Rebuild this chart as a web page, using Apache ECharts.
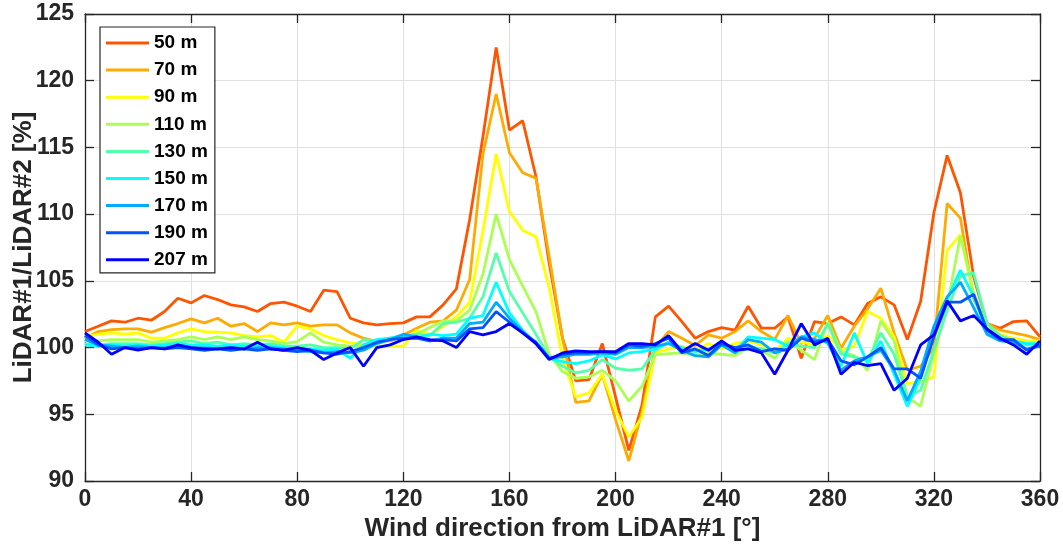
<!DOCTYPE html>
<html>
<head>
<meta charset="utf-8">
<script src="https://cdn.jsdelivr.net/npm/echarts@6/dist/echarts.min.js"></script>
<style>
  html, body { margin: 0; padding: 0; background: #fff; }
  #chart { width: 1063px; height: 552px; }
</style>
</head>
<body>
<div id="chart"></div>
<script>
// wind direction bins [deg]
var directions = [0, 5, 10, 15, 20, 25, 30, 35, 40, 45, 50, 55, 60, 65, 70, 75, 80, 85, 90, 95,
  100, 105, 110, 115, 120, 125, 130, 135, 140, 145, 150, 155, 160, 165, 170, 175, 180, 185, 190, 195,
  200, 205, 210, 215, 220, 225, 230, 235, 240, 245, 250, 255, 260, 265, 270, 275, 280, 285, 290, 295,
  300, 305, 310, 315, 320, 325, 330, 335, 340, 345, 350, 355, 360];

var heights = ["50 m", "70 m", "90 m", "110 m", "130 m", "150 m", "170 m", "190 m", "207 m"];
var colors = ["#ff5500", "#ffaa00", "#ffff00", "#aaff55", "#55ffaa", "#00ffff", "#00aaff", "#0055ff", "#0000ff"];

// LiDAR#1 / LiDAR#2 ratio [%] per height
var ratio50 = [101.2, 101.6, 102.0, 101.9, 102.2, 102.05, 102.7, 103.7, 103.35, 103.9, 103.6, 103.2, 103.05, 102.7, 103.3, 103.4, 103.1, 102.7, 104.3, 104.2,
  102.2, 101.85, 101.7, 101.8, 101.85, 102.3, 102.3, 103.2, 104.4, 109.6, 115.8, 122.5, 116.3, 117.0, 112.8, 106.3, 100.7, 97.5, 97.6, 100.3,
  96.3, 92.3, 95.7, 102.3, 103.1, 101.95, 100.7, 101.2, 101.5, 101.3, 103.1, 101.45, 101.45, 102.3, 99.2, 101.95, 101.8, 102.3, 101.7, 103.3,
  103.8, 103.2, 100.6, 103.45, 110.1, 114.4, 111.6, 105.3, 101.8, 101.45, 101.95, 102.0, 100.8];
var ratio70 = [100.7, 101.2, 101.35, 101.4, 101.4, 101.15, 101.5, 101.8, 102.15, 101.85, 102.2, 101.6, 101.8, 101.2, 101.85, 101.7, 101.85, 101.6, 101.7, 101.7,
  101.1, 100.7, 100.45, 100.5, 100.95, 101.45, 101.9, 102.0, 102.8, 105.1, 114.5, 119.0, 114.6, 113.1, 112.7, 106.8, 100.7, 95.9, 96.0, 98.0,
  94.6, 91.5, 95.2, 100.0, 101.2, 100.7, 100.15, 100.95, 100.7, 101.2, 102.0, 101.2, 100.6, 102.4, 100.3, 100.7, 102.4, 99.95, 101.6, 102.9,
  104.45, 101.1, 98.3, 98.6, 100.0, 110.8, 109.7, 103.6, 101.8, 101.3, 101.1, 100.9, 100.6];
var ratio90 = [100.8, 101.0, 101.1, 101.0, 101.1, 100.7, 100.7, 101.1, 101.4, 101.2, 101.15, 101.1, 100.9, 100.8, 100.9, 100.4, 101.6, 101.4, 100.9, 100.6,
  100.35, 100.2, 100.1, 100.1, 100.1, 101.3, 100.95, 101.6, 102.3, 103.4, 108.7, 114.5, 110.2, 108.8, 108.3, 104.5, 99.2, 96.3, 96.6, 98.0,
  95.3, 93.3, 94.8, 99.6, 99.9, 100.1, 99.7, 100.3, 99.9, 100.3, 100.5, 100.2, 99.7, 100.7, 100.4, 100.2, 100.9, 99.8, 100.1, 102.7,
  102.2, 100.8, 97.3, 97.45, 97.8, 107.3, 108.45, 103.8, 101.5, 101.0, 100.7, 100.5, 100.5];
var ratio110 = [100.5, 100.5, 100.6, 100.6, 100.6, 100.4, 100.5, 100.6, 100.8, 100.6, 100.8, 100.6, 100.8, 100.6, 100.5, 100.3, 100.45, 101.1, 100.4, 100.2,
  100.1, 100.1, 100.4, 100.6, 100.8, 101.0, 101.5, 102.0, 102.0, 102.8, 105.5, 110.0, 106.6, 104.6, 102.7, 99.5, 98.2, 97.7, 97.8, 98.3,
  97.5, 96.0, 97.1, 99.45, 99.55, 99.6, 99.4, 99.6, 99.5, 99.4, 100.0, 99.8, 99.2, 100.5, 99.8, 99.1, 101.9, 99.7, 99.4, 98.3,
  102.0, 100.5, 96.3, 95.6, 99.6, 103.1, 108.4, 104.1, 101.5, 100.7, 100.5, 100.3, 100.3];
var ratio130 = [100.3, 100.2, 100.3, 100.3, 100.3, 100.2, 100.3, 100.4, 100.5, 100.3, 100.4, 100.2, 100.3, 100.2, 100.3, 100.1, 100.1, 100.2, 100.0, 100.0,
  99.9, 100.6, 100.5, 100.7, 100.9, 101.0, 100.9, 101.8, 101.9, 102.2, 103.8, 107.1, 104.2, 102.6, 101.0, 99.3, 98.6, 98.1, 98.3, 99.1,
  98.45, 98.3, 98.4, 99.8, 100.4, 99.9, 99.8, 99.8, 100.2, 99.6, 100.1, 99.9, 99.6, 100.3, 100.1, 100.0, 101.8, 99.5, 99.3, 99.0,
  101.1, 99.5, 96.3, 96.8, 99.8, 102.8, 105.4, 105.6, 101.8, 100.9, 100.5, 100.2, 100.2];
var ratio150 = [100.2, 100.1, 100.2, 100.1, 100.2, 100.1, 100.2, 100.3, 100.2, 100.2, 100.1, 100.2, 100.1, 100.2, 100.1, 100.0, 99.9, 99.9, 99.8, 99.9,
  99.2, 100.2, 100.6, 100.7, 100.8, 100.7, 101.0, 100.9, 101.0, 102.2, 102.4, 104.9, 102.6, 101.3, 100.3, 99.2, 98.95, 98.8, 99.0, 99.45,
  99.15, 99.6, 99.7, 99.9, 100.4, 100.0, 99.7, 99.9, 100.2, 99.7, 100.8, 100.7, 100.6, 100.1, 100.8, 101.1, 100.3, 98.6, 101.1, 98.8,
  100.5, 98.0, 95.6, 97.7, 101.3, 103.6, 105.8, 103.8, 101.3, 100.6, 100.5, 100.3, 100.3];
var ratio170 = [100.6, 100.2, 100.1, 100.0, 100.1, 100.0, 100.0, 100.1, 100.0, 100.0, 99.9, 100.0, 99.9, 100.0, 100.0, 99.9, 99.8, 99.7, 99.6, 99.7,
  99.6, 99.8, 100.3, 100.6, 101.0, 100.8, 100.5, 100.7, 100.7, 101.8, 101.9, 103.4, 102.2, 101.2, 100.3, 99.2, 99.3, 99.5, 99.5, 99.6,
  99.5, 100.0, 100.0, 100.1, 100.3, 99.8, 99.4, 99.3, 100.2, 99.6, 100.6, 100.4, 99.6, 99.9, 100.8, 100.6, 100.4, 98.3, 99.0, 99.3,
  99.8, 98.3, 96.0, 98.2, 101.6, 103.8, 104.9, 103.0, 101.0, 100.5, 100.4, 99.9, 100.1];
var ratio190 = [100.9, 100.2, 99.9, 100.0, 99.9, 100.0, 99.9, 100.0, 99.9, 99.8, 99.9, 99.8, 99.9, 99.8, 99.9, 99.8, 99.7, 99.8, 99.6, 99.5,
  99.7, 100.0, 100.4, 100.6, 100.7, 100.7, 100.5, 100.6, 100.5, 101.4, 101.5, 102.7, 101.9, 101.1, 100.4, 99.2, 99.5, 99.6, 99.6, 99.7,
  99.6, 100.2, 100.1, 100.3, 100.7, 99.6, 99.9, 99.4, 100.3, 100.0, 100.2, 99.7, 99.9, 99.8, 100.7, 100.4, 100.6, 99.0, 98.7, 99.3,
  100.0, 98.4, 98.4, 97.7, 100.8, 103.4, 103.4, 104.0, 101.3, 100.6, 100.6, 99.8, 100.2];
var ratio207 = [101.1, 100.4, 99.5, 100.0, 99.8, 100.0, 99.9, 100.2, 100.0, 99.9, 99.9, 100.0, 99.9, 100.4, 99.9, 99.8, 100.0, 99.8, 99.1, 99.6,
  100.0, 98.6, 100.0, 100.2, 100.6, 100.8, 100.6, 100.5, 100.0, 101.2, 100.95, 101.2, 101.8, 101.1, 100.3, 99.1, 99.6, 99.75, 99.7, 99.7,
  99.7, 100.3, 100.3, 100.2, 100.9, 99.7, 100.3, 99.8, 100.5, 99.8, 99.9, 99.6, 98.0, 99.8, 101.8, 100.2, 100.7, 98.0, 98.9, 98.65,
  98.8, 96.8, 97.7, 100.2, 100.95, 103.5, 102.0, 102.4, 101.4, 100.7, 100.2, 99.5, 100.5];

var ratios = [ratio50, ratio70, ratio90, ratio110, ratio130, ratio150, ratio170, ratio190, ratio207];

var xTicks = { min: 0, max: 360, interval: 40 };
var yTicks = { min: 90, max: 125, interval: 5 };

var axisColor = "#262626";
var fontFamily = "Liberation Sans, Arial, sans-serif";

function pairs(values) {
  return directions.map(function (d, i) { return [d, values[i]]; });
}

var chart = echarts.init(document.getElementById("chart"), null, { renderer: "canvas" });

var series = heights.map(function (name, i) {
  return {
    name: name,
    type: "line",
    symbol: "none",
    data: pairs(ratios[i]),
    lineStyle: { width: 2.8, color: colors[i] },
    itemStyle: { color: colors[i] }
  };
});

// shared axis look (MATLAB-style box with inward ticks)
function boxAxis(extra) {
  var base = {
    type: "value",
    axisLine: { show: true, onZero: false, lineStyle: { color: axisColor, width: 1.3 } },
    axisTick: { show: true, inside: true, length: 9, lineStyle: { color: axisColor, width: 1.3 } },
    splitLine: { show: false },
    axisLabel: { show: false }
  };
  return Object.assign(base, extra);
}

var option = {
  backgroundColor: "#ffffff",
  animation: false,
  grid: { left: 85, right: 23, top: 14, bottom: 71, containLabel: false, outerBoundsMode: "none" },
  legend: {
    orient: "vertical",
    left: 100,
    top: 27,
    padding: [6, 7, 3, 6],
    icon: "rect",
    itemWidth: 43,
    itemHeight: 3,
    itemGap: 7.1,
    backgroundColor: "#ffffff",
    borderColor: axisColor,
    borderWidth: 1.2,
    borderRadius: 0,
    textStyle: { fontFamily: fontFamily, fontWeight: "bold", fontSize: 19, lineHeight: 20, color: "#000" },
    data: heights
  },
  xAxis: [
    boxAxis({
      position: "bottom",
      min: xTicks.min, max: xTicks.max, interval: xTicks.interval,
      name: "Wind direction from LiDAR#1 [°]",
      nameLocation: "middle",
      nameGap: 35,
      nameMoveOverlap: false,
      nameTextStyle: { fontFamily: fontFamily, fontWeight: "bold", fontSize: 26, color: axisColor },
      splitLine: { show: true, lineStyle: { color: "#e0e0e0", width: 1 } },
      axisLabel: { show: true, margin: 7, fontFamily: fontFamily, fontWeight: "bold", fontSize: 23, color: axisColor }
    }),
    boxAxis({ position: "top", min: xTicks.min, max: xTicks.max, interval: xTicks.interval })
  ],
  yAxis: [
    boxAxis({
      position: "left",
      min: yTicks.min, max: yTicks.max, interval: yTicks.interval,
      name: "LiDAR#1/LiDAR#2 [%]",
      nameLocation: "middle",
      nameGap: 48,
      nameMoveOverlap: false,
      nameTextStyle: { fontFamily: fontFamily, fontWeight: "bold", fontSize: 26, color: axisColor },
      splitLine: { show: true, lineStyle: { color: "#e0e0e0", width: 1 } },
      axisLabel: { show: true, margin: 11, fontFamily: fontFamily, fontWeight: "bold", fontSize: 23, color: axisColor }
    }),
    boxAxis({ position: "right", min: yTicks.min, max: yTicks.max, interval: yTicks.interval })
  ],
  series: series
};

chart.setOption(option);
</script>
</body>
</html>
